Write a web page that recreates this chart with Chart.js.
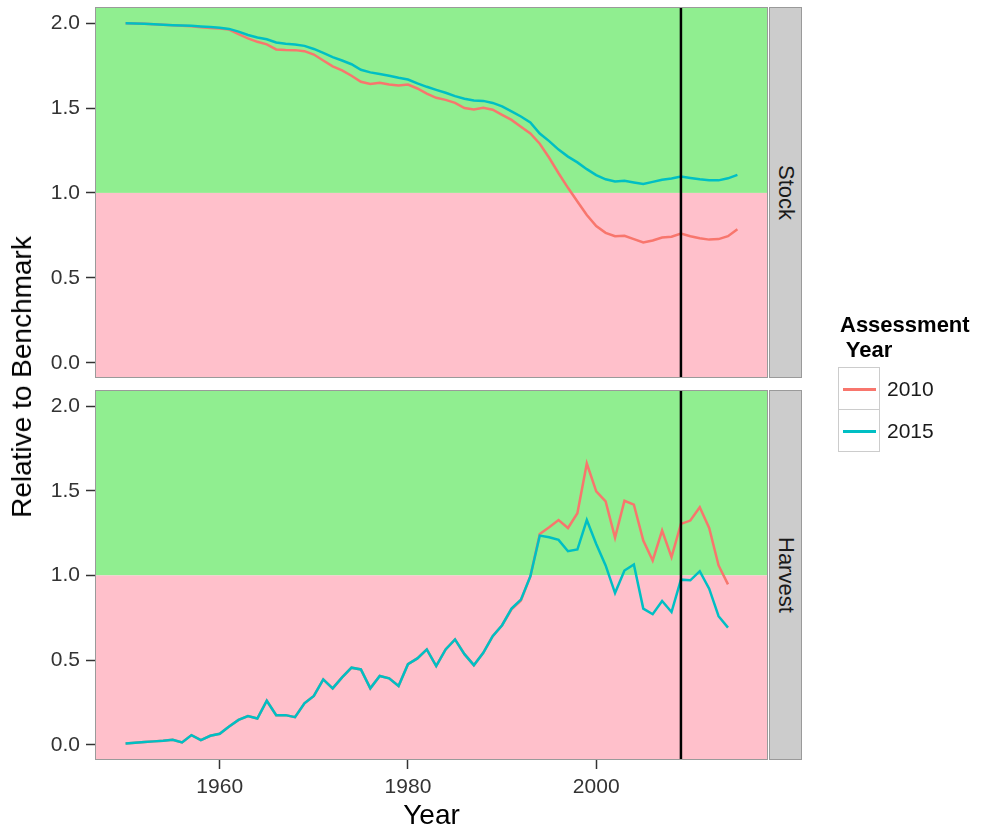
<!DOCTYPE html>
<html lang="en">
<head>
  <meta charset="UTF-8">
  <title>Stock and Harvest Relative to Benchmark</title>
  <script src="https://cdn.jsdelivr.net/npm/chart.js"></script>
  <style>
    body {
      margin: 0;
      background: #fff;
      font-family: "Liberation Sans", Arial, sans-serif;
    }

    #wrap {
      position: relative;
      width: 981px;
      height: 834px;
      overflow: hidden;
    }

    canvas {
      position: absolute;
      left: 0;
    }

    #stockChart { top: 0; }
    #harvestChart { top: 385px; }

    .strip {
      position: absolute;
      left: 769px;
      width: 33px;
      box-sizing: border-box;
      background: #cccccc;
      border: 1px solid #9a9a9a;
      display: flex;
      align-items: center;
      justify-content: center;
    }

    .strip span {
      writing-mode: vertical-rl;
      font-size: 22px;
      color: #1a1a1a;
    }

    #ytitle {
      position: absolute;
      left: 22px;
      top: 377px;
      transform: translate(-50%, -50%) rotate(-90deg);
      font-size: 28px;
      line-height: 28px;
      white-space: nowrap;
      color: #000;
    }

    .ltitle {
      position: absolute;
      left: 840px;
      top: 312px;
      font-size: 22px;
      line-height: 25px;
      font-weight: bold;
      white-space: pre;
      color: #000;
    }

    .key {
      position: absolute;
      left: 838px;
      width: 42px;
      height: 43px;
      box-sizing: border-box;
      border: 1px solid #cccccc;
      background: #fff;
    }

    .key i {
      position: absolute;
      left: 4px;
      top: 20px;
      width: 33px;
      height: 2.5px;
    }

    .klabel {
      position: absolute;
      left: 887px;
      font-size: 21px;
      line-height: 21px;
      color: #1a1a1a;
    }
  </style>
</head>
<body>
  <div id="wrap">
    <canvas id="stockChart" width="981" height="385"></canvas>
    <canvas id="harvestChart" width="981" height="449"></canvas>

    <div class="strip" style="top:7px;height:371px"><span>Stock</span></div>
    <div class="strip" style="top:390px;height:370px"><span>Harvest</span></div>

    <div id="ytitle">Relative to Benchmark</div>

    <div class="ltitle">Assessment
 Year</div>
    <div class="key" style="top:367px"><i style="background:#F8766D"></i></div>
    <div class="key" style="top:409px"><i style="background:#00BFC4"></i></div>
    <div class="klabel" style="top:378px">2010</div>
    <div class="klabel" style="top:420px">2015</div>
  </div>

  <script>
    const years = [
      1950, 1951, 1952, 1953, 1954, 1955, 1956, 1957, 1958, 1959,
      1960, 1961, 1962, 1963, 1964, 1965, 1966, 1967, 1968, 1969,
      1970, 1971, 1972, 1973, 1974, 1975, 1976, 1977, 1978, 1979,
      1980, 1981, 1982, 1983, 1984, 1985, 1986, 1987, 1988, 1989,
      1990, 1991, 1992, 1993, 1994, 1995, 1996, 1997, 1998, 1999,
      2000, 2001, 2002, 2003, 2004, 2005, 2006, 2007, 2008, 2009,
      2010, 2011, 2012, 2013, 2014, 2015
    ];

    // Stock relative to benchmark, 1950-2015
    const stock2010 = [
      2.000, 1.998, 1.996, 1.993, 1.990, 1.988, 1.985, 1.982, 1.976, 1.972,
      1.968, 1.962, 1.935, 1.910, 1.890, 1.875, 1.845, 1.842, 1.841, 1.835,
      1.815, 1.780, 1.745, 1.722, 1.690, 1.655, 1.642, 1.649, 1.638, 1.633,
      1.638, 1.615, 1.585, 1.560, 1.548, 1.530, 1.500, 1.492, 1.502, 1.490,
      1.460, 1.430, 1.390, 1.350, 1.290, 1.207, 1.116, 1.030, 0.950, 0.870,
      0.805, 0.765, 0.745, 0.748, 0.728, 0.708, 0.720, 0.737, 0.742, 0.761,
      0.745, 0.733, 0.725, 0.728, 0.745, 0.786
    ];
    const stock2015 = [
      2.000, 1.998, 1.996, 1.993, 1.990, 1.988, 1.986, 1.984, 1.980, 1.977,
      1.973, 1.966, 1.950, 1.930, 1.915, 1.905, 1.886, 1.878, 1.874, 1.866,
      1.848, 1.825, 1.800, 1.780, 1.758, 1.725, 1.710, 1.700, 1.690, 1.678,
      1.668, 1.645, 1.625, 1.607, 1.590, 1.570, 1.555, 1.545, 1.542, 1.530,
      1.510, 1.480, 1.450, 1.415, 1.350, 1.305, 1.255, 1.214, 1.180, 1.140,
      1.105, 1.080, 1.068, 1.071, 1.062, 1.053, 1.065, 1.078, 1.085, 1.096,
      1.088, 1.080, 1.075, 1.074, 1.086, 1.106
    ];

    // Harvest relative to benchmark, 1950-2014
    const harvest2010 = [
      0.008, 0.012, 0.016, 0.020, 0.024, 0.030, 0.014, 0.057, 0.028, 0.053,
      0.065, 0.108, 0.147, 0.170, 0.155, 0.260, 0.175, 0.175, 0.163, 0.245,
      0.288, 0.386, 0.333, 0.398, 0.455, 0.445, 0.333, 0.406, 0.392, 0.347,
      0.476, 0.510, 0.563, 0.465, 0.563, 0.622, 0.535, 0.470, 0.543, 0.641,
      0.706, 0.800, 0.852, 0.994, 1.245, 1.284, 1.327, 1.280, 1.367, 1.661,
      1.496, 1.437, 1.222, 1.441, 1.418, 1.206, 1.088, 1.265, 1.108, 1.304,
      1.324, 1.402, 1.280, 1.059, 0.947
    ];
    const harvest2015 = [
      0.008, 0.012, 0.016, 0.020, 0.024, 0.030, 0.014, 0.057, 0.028, 0.053,
      0.065, 0.108, 0.147, 0.170, 0.155, 0.260, 0.175, 0.175, 0.163, 0.245,
      0.288, 0.386, 0.333, 0.398, 0.455, 0.445, 0.333, 0.406, 0.392, 0.347,
      0.476, 0.510, 0.563, 0.465, 0.563, 0.622, 0.535, 0.470, 0.543, 0.641,
      0.706, 0.804, 0.857, 0.994, 1.235, 1.225, 1.210, 1.143, 1.153, 1.327,
      1.186, 1.059, 0.896, 1.029, 1.065, 0.804, 0.771, 0.849, 0.784, 0.975,
      0.971, 1.025, 0.922, 0.759, 0.692
    ];

    const xTicks = [1960, 1980, 2000];
    const yTicks = [0, 0.5, 1, 1.5, 2];
    const benchmark = 1.0;
    const refYear = 2009;

    const COLOR_2010 = '#F8766D';
    const COLOR_2015 = '#00BFC4';
    const TICK_FONT = { family: '"Liberation Sans", Arial, sans-serif', size: 21 };

    function toPoints(vals) {
      return vals.map((v, i) => ({ x: years[i], y: v }));
    }

    // green / pink zones, reference-year line and panel border
    const panelPlugin = {
      id: 'panel',
      beforeDatasetsDraw(chart) {
        const { ctx, chartArea: a, scales: { y } } = chart;
        const yb = y.getPixelForValue(benchmark);
        ctx.save();
        ctx.fillStyle = '#90EE90';
        ctx.fillRect(a.left, a.top, a.width, yb - a.top);
        ctx.fillStyle = '#FFC0CB';
        ctx.fillRect(a.left, yb, a.width, a.bottom - yb);
        ctx.restore();
      },
      afterDatasetsDraw(chart) {
        const { ctx, chartArea: a, scales: { x } } = chart;
        const xr = x.getPixelForValue(refYear);
        ctx.save();
        ctx.strokeStyle = '#000';
        ctx.lineWidth = 2.5;
        ctx.beginPath();
        ctx.moveTo(xr, a.top);
        ctx.lineTo(xr, a.bottom);
        ctx.stroke();
        ctx.strokeStyle = '#9a9a9a';
        ctx.lineWidth = 1;
        ctx.strokeRect(a.left + 0.5, a.top + 0.5, a.width - 1, a.height - 1);
        ctx.restore();
      }
    };

    function makePanel(id, s2010, s2015, showX) {
      return new Chart(document.getElementById(id), {
        type: 'line',
        data: {
          datasets: [
            {
              label: '2010',
              data: toPoints(s2010),
              borderColor: COLOR_2010,
              borderWidth: 2.5,
              pointRadius: 0,
              tension: 0,
              order: 1
            },
            {
              label: '2015',
              data: toPoints(s2015),
              borderColor: COLOR_2015,
              borderWidth: 2.5,
              pointRadius: 0,
              tension: 0,
              order: 0
            }
          ]
        },
        options: {
          responsive: false,
          animation: false,
          events: [],
          layout: {
            padding: { top: showX ? 5 : 7, right: 213, bottom: showX ? 0 : 7, left: 0 }
          },
          plugins: {
            legend: { display: false },
            tooltip: { enabled: false }
          },
          scales: {
            x: {
              type: 'linear',
              display: showX,
              min: 1946.75,
              max: 2018.25,
              afterBuildTicks: s => { s.ticks = xTicks.map(v => ({ value: v })); },
              afterFit: s => {
                if (showX) s.height = 74;
                s.paddingLeft = 0;
                s.paddingRight = 0;
              },
              border: { display: false },
              grid: {
                drawOnChartArea: false,
                drawTicks: true,
                tickLength: 9,
                tickColor: '#333',
                tickWidth: 1.5
              },
              ticks: {
                autoSkip: false,
                maxRotation: 0,
                padding: 6,
                color: '#333',
                font: TICK_FONT,
                callback: v => String(v)
              },
              title: {
                display: true,
                text: 'Year',
                color: '#000',
                font: { family: '"Liberation Sans", Arial, sans-serif', size: 28 },
                padding: { top: 0, bottom: 1 }
              }
            },
            y: {
              type: 'linear',
              min: -0.09,
              max: 2.095,
              afterBuildTicks: s => { s.ticks = yTicks.map(v => ({ value: v })); },
              afterFit: s => {
                s.width = 95;
                s.paddingTop = 0;
                s.paddingBottom = 0;
              },
              border: { display: false },
              grid: {
                drawOnChartArea: false,
                drawTicks: true,
                tickLength: 9,
                tickColor: '#333',
                tickWidth: 1.5
              },
              ticks: {
                autoSkip: false,
                padding: 6,
                color: '#333',
                font: TICK_FONT,
                callback: v => v.toFixed(1)
              }
            }
          }
        },
        plugins: [panelPlugin]
      });
    }

    makePanel('stockChart', stock2010, stock2015, false);
    makePanel('harvestChart', harvest2010, harvest2015, true);
  </script>
</body>
</html>
